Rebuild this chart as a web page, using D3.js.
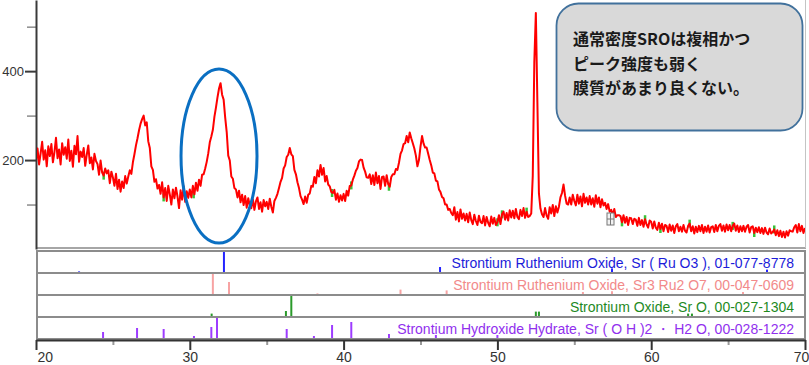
<!DOCTYPE html>
<html>
<head>
<meta charset="utf-8">
<script src="https://cdn.jsdelivr.net/npm/d3@7"></script>
<style>
  body { margin: 0; background: #fff; }
  svg { display: block; }
</style>
</head>
<body>
<div id="xrdChart"></div>
<script>
// XRD scan, 2theta 20 -> 70 deg, one count value every 0.1 deg
var scanStart = 20;
var scanStep = 0.1;
var counts = [
  198, 226, 190, 215, 241, 201, 222, 186, 231, 209, // 20
  236, 195, 218, 250, 204, 224, 190, 238, 212, 229, // 21
  203, 246, 198, 221, 185, 232, 213, 254, 196, 219, // 22
  207, 227, 187, 212, 233, 193, 206, 179, 214, 198, // 23
  191, 167, 199, 172, 165, 181, 170, 177, 148, 174, // 24
  161, 142, 169, 135, 156, 129, 152, 137, 164, 147, // 25
  163, 177, 169, 195, 213, 233, 249, 267, 282, 292, // 26
  300, 278, 285, 242, 227, 186, 178, 151, 157, 136, // 27
  144, 124, 150, 116, 137, 108, 142, 123, 100, 134, // 28
  114, 138, 118, 92, 132, 111, 141, 106, 130, 115,  // 29
  134, 116, 142, 123, 149, 131, 156, 142, 167, 168, // 30
  181, 196, 215, 240, 253, 268, 297, 318, 341, 361, // 31
  373, 347, 336, 296, 263, 210, 199, 163, 158, 137, // 32
  134, 116, 131, 105, 122, 99, 119, 93, 114, 98,    // 33
  92, 112, 88, 107, 116, 90, 105, 84, 110, 96,      // 34
  106, 90, 113, 95, 82, 108, 115, 124, 137, 151,    // 35
  160, 181, 188, 207, 212, 227, 213, 209, 178, 168, // 36
  150, 137, 119, 111, 101, 118, 104, 122, 125, 142, // 37
  140, 162, 148, 177, 163, 189, 167, 182, 152, 164, // 38
  145, 141, 128, 126, 133, 111, 125, 106, 121, 109, // 39
  124, 108, 131, 120, 142, 143, 156, 165, 176, 182, // 40
  197, 201, 200, 183, 174, 161, 160, 168, 146, 166, // 41
  144, 172, 148, 164, 135, 162, 163, 142, 166, 146, // 42
  140, 162, 168, 168, 180, 178, 194, 214, 222, 236, // 43
  238, 254, 240, 262, 249, 238, 226, 210, 186, 200, // 44
  230, 254, 237, 228, 228, 214, 200, 188, 172, 170, // 45
  154, 152, 134, 128, 117, 114, 100, 100, 88, 90,   // 46
  81, 76, 94, 66, 83, 62, 89, 68, 80, 64,           // 47
  79, 60, 82, 65, 56, 77, 63, 54, 75, 61,           // 48
  58, 74, 53, 72, 59, 51, 73, 57, 70, 54,           // 49
  60, 76, 56, 78, 84, 66, 81, 64, 87, 71,           // 50
  86, 69, 90, 72, 67, 88, 74, 92, 70, 84,           // 51
  72, 74, 80, 165, 420, 531, 330, 125, 91, 78,      // 52
  72, 92, 75, 68, 94, 80, 99, 74, 96, 82,           // 53
  95, 116, 126, 145, 120, 102, 100, 116, 100, 122,  // 54
  108, 98, 122, 102, 118, 96, 124, 104, 116, 100,   // 55
  119, 100, 114, 95, 121, 102, 116, 94, 112, 98,    // 56
  104, 90, 101, 84, 88, 76, 90, 72, 76, 76,         // 57
  74, 60, 76, 59, 72, 54, 70, 69, 56, 68,           // 58
  66, 52, 70, 54, 65, 50, 67, 55, 48, 64,           // 59
  61, 46, 62, 48, 43, 59, 45, 57, 40, 54,           // 60
  52, 38, 55, 41, 53, 36, 51, 56, 40, 50,           // 61
  39, 54, 41, 37, 52, 57, 40, 51, 35, 50,           // 62
  38, 52, 40, 54, 36, 50, 39, 53, 37, 49,           // 63
  51, 38, 54, 40, 52, 56, 41, 53, 39, 55,           // 64
  42, 54, 40, 52, 57, 41, 53, 38, 51, 40,           // 65
  52, 39, 50, 54, 37, 49, 51, 36, 48, 38,           // 66
  49, 36, 47, 34, 48, 37, 33, 46, 35, 38,           // 67
  44, 31, 42, 29, 41, 27, 39, 26, 40, 30,           // 68
  42, 40, 39, 49, 54, 37, 56, 40, 52, 36,           // 69
  47                                                // 70
];

// axis ticks
var yTickLabels = [200, 400];
var yMinorTicks = [100, 300, 500];
var xTickLabels = [20, 30, 40, 50, 60, 70];
var xMinorTicks = [25, 35, 45, 55, 65];

// reference cards (stick patterns, relative intensity 0-100)
var cardNames = [
  "Strontium Ruthenium Oxide, Sr ( Ru O3 ), 01-077-8778",
  "Strontium Ruthenium Oxide, Sr3 Ru2 O7, 00-047-0609",
  "Strontium Oxide, Sr O, 00-027-1304",
  "Strontium Hydroxide Hydrate, Sr ( O H )2 \u30FB H2 O, 00-028-1222"
];
var sroPeaks = [22.8, 32.22, 46.27, 57.45, 67.53];
var sroHeights = [3, 100, 25, 18, 12];
var sr3Peaks = [31.5, 32.55, 38.3, 43.7, 46.7, 55.56, 57.45, 65.97];
var sr3Heights = [100, 60, 3, 22, 18, 10, 14, 10];
var oxidePeaks = [31.42, 36.25, 36.6, 52.5, 52.7, 62.4, 62.65];
var oxideHeights = [12, 25, 100, 22, 22, 12, 12];
var hydratePeaks = [24.36, 26.57, 28.3, 30.27, 31.4, 31.77, 36.3, 38.07, 39.25, 40.5, 42.95, 46.0, 50.0];
var hydrateHeights = [30, 50, 45, 10, 55, 100, 45, 10, 65, 80, 20, 15, 15];

// matched peak markers on the scan
var markerPeaks = [24.4, 28.3, 30.25, 39.25, 40.5, 42.95, 50.0, 50.3, 51.9, 58.1, 59.6, 60.6, 62.5, 65.3, 66.7, 68.0];

// note in the grey box
var noteLines = ["通常密度SROは複相かつ", "ピーク強度も弱く", "膜質があまり良くない。"];

var cardColors = ["#1c1cd9", "#f28a8a", "#1f8a1f", "#9130ee"];
var stickColors = ["#2424ff", "#f7a3a3", "#2a9a2a", "#9d3cff"];

buildChart();

function buildChart() {
  var svgWidth = 809;
  var svgHeight = 365;

  var svg = d3.select("#xrdChart")
    .append("svg")
    .attr("width", svgWidth)
    .attr("height", svgHeight);

  var xScale = d3.scaleLinear()
    .domain([20, 70])
    .range([36, 805]);

  var yScale = d3.scaleLinear()
    .domain([0, 560])
    .range([249, 0]);

  var scan = counts.map(function(c, i) {
    return { deg: scanStart + i * scanStep, cnt: c };
  });

  // frame of main plot (bottom + right, light grey)
  svg.append("line")
    .attr("x1", 36).attr("x2", 806)
    .attr("y1", 248).attr("y2", 248)
    .attr("stroke", "#a6a6a6").attr("stroke-width", 2);
  svg.append("line")
    .attr("x1", 805.5).attr("x2", 805.5)
    .attr("y1", 0).attr("y2", 248)
    .attr("stroke", "#c4c4c4").attr("stroke-width", 1);

  // left axis: minor ticks then labelled ticks
  var minorLeft = svg.append("g")
    .attr("transform", "translate(36,0)")
    .call(d3.axisLeft(yScale).tickValues(yMinorTicks).tickSize(9).tickSizeOuter(0).tickFormat(""));
  minorLeft.select(".domain").remove();
  minorLeft.selectAll("line").attr("stroke", "#8c8c8c").attr("stroke-width", 1.5);

  var leftAxis = svg.append("g")
    .attr("transform", "translate(36,0)")
    .call(d3.axisLeft(yScale).tickValues(yTickLabels).tickSize(11).tickSizeOuter(0));
  leftAxis.select(".domain").attr("stroke", "#3a3a3a").attr("stroke-width", 2);
  leftAxis.selectAll("line").attr("stroke", "#3a3a3a").attr("stroke-width", 2);
  leftAxis.selectAll("text")
    .attr("x", -12)
    .attr("fill", "#333")
    .style("font-family", "'Liberation Sans', Arial, sans-serif")
    .style("font-size", "13px");

  // clip for the scan
  svg.append("clipPath").attr("id", "plotClip")
    .append("rect").attr("x", 37).attr("y", 0).attr("width", 768).attr("height", 248);

  var plot = svg.append("g").attr("clip-path", "url(#plotClip)");

  // green match markers (under the red trace)
  plot.selectAll(".marker")
    .data(markerPeaks)
    .enter()
    .append("line")
    .attr("class", "marker")
    .attr("x1", d => xScale(d))
    .attr("x2", d => xScale(d))
    .attr("y1", d => yScale(counts[Math.round((d - scanStart) / scanStep)]) - 4)
    .attr("y2", d => yScale(counts[Math.round((d - scanStart) / scanStep)]) + 4)
    .attr("stroke", "#39c239")
    .attr("stroke-width", 2.5);

  var scanLine = d3.line()
    .x(d => xScale(d.deg))
    .y(d => yScale(d.cnt));

  plot.append("path")
    .datum(scan)
    .attr("d", scanLine)
    .attr("fill", "none")
    .attr("stroke", "#ff0000")
    .attr("stroke-width", 2)
    .attr("stroke-linejoin", "round");

  // blue ellipse around the SRO peak
  svg.append("ellipse")
    .attr("cx", xScale(31.9))
    .attr("cy", yScale(209))
    .attr("rx", 38)
    .attr("ry", 87)
    .attr("fill", "none")
    .attr("stroke", "#0a6fc2")
    .attr("stroke-width", 3);

  // small grid icon left on the trace
  var icon = svg.append("g").attr("transform", "translate(607,213)");
  icon.append("rect").attr("width", 7).attr("height", 12)
    .attr("fill", "#f2f2f2").attr("stroke", "#777").attr("stroke-width", 1);
  icon.append("line").attr("x1", 0).attr("x2", 7).attr("y1", 6).attr("y2", 6).attr("stroke", "#777");
  icon.append("line").attr("x1", 3.5).attr("x2", 3.5).attr("y1", 0).attr("y2", 12).attr("stroke", "#777");

  // note box
  svg.append("rect")
    .attr("x", 556.5).attr("y", 3.5)
    .attr("width", 246).attr("height", 127)
    .attr("rx", 22).attr("ry", 22)
    .attr("fill", "#d9d9d9")
    .attr("stroke", "#41719c")
    .attr("stroke-width", 1.8);

  svg.selectAll(".note")
    .data(noteLines)
    .enter()
    .append("text")
    .attr("class", "note")
    .attr("x", 573)
    .attr("y", (d, i) => 45 + i * 24.5)
    .attr("fill", "#1a1a1a")
    .style("font-family", "'Noto Sans CJK JP', sans-serif")
    .style("font-weight", "bold")
    .style("font-size", "16px")
    .text(d => d);

  // reference card panels
  var cards = [
    { peaks: sroPeaks, heights: sroHeights },
    { peaks: sr3Peaks, heights: sr3Heights },
    { peaks: oxidePeaks, heights: oxideHeights },
    { peaks: hydratePeaks, heights: hydrateHeights }
  ];
  var panelTop = 251;
  var panelHeight = 22;
  var stickScale = d3.scaleLinear().domain([0, 100]).range([0, 20]);

  cards.forEach(function(card, k) {
    var top = panelTop + k * panelHeight;
    var bottom = top + panelHeight;

    svg.append("rect")
      .attr("x", 37).attr("y", top)
      .attr("width", 768).attr("height", panelHeight)
      .attr("fill", "#fff")
      .attr("stroke", "#8c8c8c")
      .attr("stroke-width", 2);

    svg.selectAll(".stick" + k)
      .data(card.peaks)
      .enter()
      .append("line")
      .attr("class", "stick" + k)
      .attr("x1", d => xScale(d))
      .attr("x2", d => xScale(d))
      .attr("y1", bottom - 1)
      .attr("y2", (d, i) => bottom - 1 - stickScale(card.heights[i]))
      .attr("stroke", stickColors[k])
      .attr("stroke-width", 2);

    svg.append("text")
      .attr("x", 794)
      .attr("y", top + 16.5)
      .attr("text-anchor", "end")
      .attr("fill", cardColors[k])
      .style("font-family", "'Liberation Sans', Arial, sans-serif")
      .style("font-size", "14px")
      .text(cardNames[k]);
  });

  // bottom axis
  var minorBottom = svg.append("g")
    .attr("transform", "translate(0,340)")
    .call(d3.axisBottom(xScale).tickValues(xMinorTicks).tickSize(5).tickSizeOuter(0).tickFormat(""));
  minorBottom.select(".domain").remove();
  minorBottom.selectAll("line").attr("stroke", "#999").attr("stroke-width", 2);

  var bottomAxis = svg.append("g")
    .attr("transform", "translate(0,340)")
    .call(d3.axisBottom(xScale).tickValues(xTickLabels).tickSize(10).tickSizeOuter(0));
  bottomAxis.select(".domain").attr("stroke", "#333").attr("stroke-width", 2);
  bottomAxis.selectAll("line").attr("stroke", "#333").attr("stroke-width", 2);
  bottomAxis.selectAll("text")
    .attr("y", 12)
    .attr("fill", "#333")
    .style("font-family", "'Liberation Sans', Arial, sans-serif")
    .style("font-size", "14px");
  // keep the end labels inside the picture
  bottomAxis.selectAll("text").filter(d => d === 20).attr("text-anchor", "start").attr("dx", 1);
  bottomAxis.selectAll("text").filter(d => d === 70).attr("dx", -4);
} // end of buildChart
</script>
</body>
</html>
